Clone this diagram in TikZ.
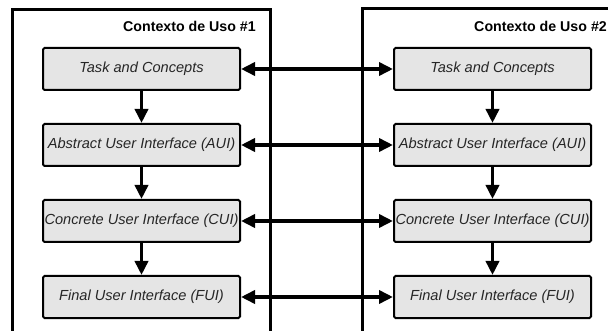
\documentclass[tikz,border=0pt]{standalone}
\usepackage{fontspec}
\setmainfont{Liberation Sans}
\usetikzlibrary{arrows.meta}

\tikzset{
  layer/.style={draw, line width=2pt, rounded corners=1.5pt, fill=gray!20,
    minimum width=197pt, minimum height=42pt, inner sep=1pt,
    font=\fontsize{14.6}{17}\selectfont\itshape, text=black!85},
  flow/.style={line width=3.5pt, -{Triangle[length=14pt,width=13pt]}},
  mapping/.style={line width=3.5pt,
    {Triangle[length=14pt,width=13pt]}-{Triangle[length=14pt,width=13pt]}},
  ctxtitle/.style={anchor=east, inner sep=0pt,
    font=\fontsize{14.2}{17}\selectfont\bfseries}
}

\begin{document}
\begin{tikzpicture}[x=1pt, y=-1pt]

\useasboundingbox (0,0) rectangle (608,331);
\clip (0,0) rectangle (608,331);

% ===== 枠（下は切れている） =====
\draw[line width=3pt] (12,345) -- (12,10) -- (270,10) -- (270,345);
\draw[line width=3pt] (362,345) -- (362,8.5) -- (625,8.5) -- (625,345);

\node[ctxtitle] (ctx1) at (256,26) {Contexto de Uso \#1};
\node[ctxtitle] (ctx2) at (607,26) {Contexto de Uso \#2};

% ===== 左側の層 =====
\node[layer] (tc1)  at (141.5,69)  {Task and Concepts};
\node[layer] (aui1) at (141.5,145) {Abstract User Interface (AUI)};
\node[layer] (cui1) at (141.5,221) {Concrete User Interface (CUI)};
\node[layer] (fui1) at (141.5,297) {Final User Interface (FUI)};

% ===== 右側の層 =====
\node[layer] (tc2)  at (492.5,69)  {Task and Concepts};
\node[layer] (aui2) at (492.5,145) {Abstract User Interface (AUI)};
\node[layer] (cui2) at (492.5,221) {Concrete User Interface (CUI)};
\node[layer] (fui2) at (492.5,297) {Final User Interface (FUI)};

% 縦の矢印
\draw[flow] (tc1) -- (aui1);
\draw[flow] (aui1) -- (cui1);
\draw[flow] (cui1) -- (fui1);

\draw[flow] (tc2) -- (aui2);
\draw[flow] (aui2) -- (cui2);
\draw[flow] (cui2) -- (fui2);

% 横の矢印（両方向）
\draw[mapping] (tc1) -- (tc2);
\draw[mapping] (aui1) -- (aui2);
\draw[mapping] (cui1) -- (cui2);
\draw[mapping] (fui1) -- (fui2);

\end{tikzpicture}
\end{document}
